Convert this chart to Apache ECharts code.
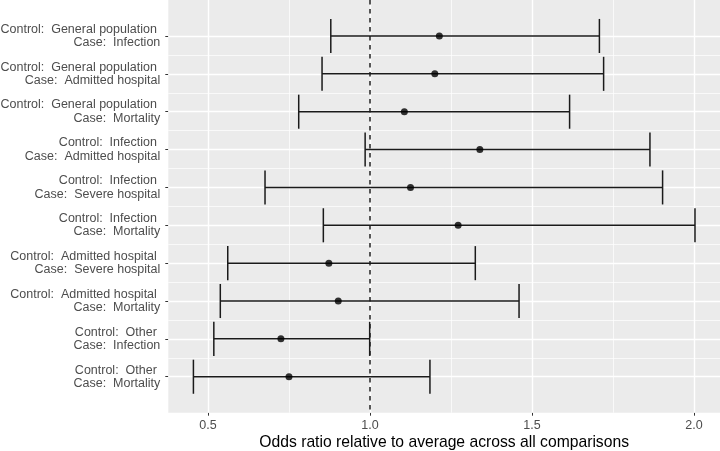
<!DOCTYPE html>
<html>
<head>
<meta charset="utf-8">
<script src="https://cdn.jsdelivr.net/npm/echarts@6/dist/echarts.min.js"></script>
<style>html,body{margin:0;padding:0;background:#fff}#c{width:720px;height:451px}</style>
</head>
<body>
<div id="c"></div>
<script>
const controls = ['General population','General population','General population','Infection','Infection','Infection','Admitted hospital','Admitted hospital','Other','Other'];
const cases = ['Infection','Admitted hospital','Mortality','Admitted hospital','Severe hospital','Mortality','Severe hospital','Mortality','Infection','Mortality'];
const estimate = [1.214,1.200,1.106,1.339,1.125,1.272,0.873,0.902,0.725,0.750];
const lower = [0.879,0.852,0.780,0.985,0.676,0.856,0.561,0.538,0.518,0.455];
const upper = [1.708,1.721,1.616,1.864,1.903,2.003,1.325,1.460,0.999,1.185];
const xTicks = [0.5,1.0,1.5,2.0];
const xMinor = [0.75,1.25,1.75];
const refLine = 1.0;
const xTitle = 'Odds ratio relative to average across all comparisons';

const rows = controls.map((c,i)=>i+1);
const rowMinor = rows.slice(0,-1).map(r=>r+0.5);

const FONT = '"Liberation Sans", Arial, sans-serif';
const chart = echarts.init(document.getElementById('c'), null, {renderer:'canvas'});

const gridLines = []
  .concat(xMinor.map(v=>({xAxis:v, lineStyle:{color:'#fff', width:0.7, type:'solid'}})))
  .concat(rowMinor.map(v=>({yAxis:v, lineStyle:{color:'#fff', width:0.7, type:'solid'}})))
  .concat(xTicks.map(v=>({xAxis:v, lineStyle:{color:'#fff', width:1.4, type:'solid'}})))
  .concat(rows.map(v=>({yAxis:v, lineStyle:{color:'#fff', width:1.4, type:'solid'}})));

chart.setOption({
  animation:false,
  backgroundColor:'#fff',
  grid:{left:168.3, right:0, top:0, bottom:38.3, show:true, backgroundColor:'#EBEBEB', borderWidth:0,
        containLabel:false, outerBoundsMode:'none'},
  xAxis:{
    type:'value', min:0.3775, max:2.0802,
    splitLine:{show:false}, axisLine:{show:false},
    axisTick:{show:true, customValues:xTicks, length:3, lineStyle:{color:'#333', width:1}},
    axisLabel:{customValues:xTicks, formatter:v=>v.toFixed(1), color:'#4D4D4D', fontSize:12.5, fontFamily:FONT, margin:6},
    name:xTitle, nameLocation:'middle', nameGap:22, nameMoveOverlap:false,
    nameTextStyle:{color:'#000', fontSize:15.7, fontFamily:FONT}
  },
  yAxis:{
    type:'value', min:0.05, max:10.95, inverse:true,
    splitLine:{show:false}, axisLine:{show:false},
    axisTick:{show:true, customValues:rows, length:3, lineStyle:{color:'#333', width:1}},
    axisLabel:{customValues:rows, color:'#4D4D4D', fontSize:12.5, fontFamily:FONT, margin:8, align:'right', lineHeight:13.3,
      formatter:v=>{const i=Math.round(v)-1; return 'Control:  '+controls[i]+' \nCase:  '+cases[i];}}
  },
  series:[
    {type:'scatter', data:[[1,1]], symbolSize:0, silent:true, z:1,
     markLine:{silent:true, z:1, symbol:['none','none'], label:{show:false}, animation:false, data:gridLines}},
    {type:'scatter', data:[[1,1]], symbolSize:0, silent:true, z:2,
     markLine:{silent:true, z:2, symbol:['none','none'], label:{show:false}, animation:false,
       data:[{xAxis:refLine, lineStyle:{color:'#222', width:1.5, type:[4.5,4.5]}}]}},
    {type:'custom', z:10, silent:true,
     encode:{x:[1,2], y:0},
     data: rows.map((r,i)=>[r, lower[i], upper[i]]),
     renderItem:(params, api)=>{
       const y = api.value(0), lo = api.value(1), hi = api.value(2);
       const a = api.coord([lo,y]), b = api.coord([hi,y]);
       const h = api.size([0,0.45])[1];
       const w = 1.5;
       const st = {fill:'#1a1a1a', stroke:null};
       return {type:'group', children:[
         {type:'rect', shape:{x:a[0], y:a[1]-w/2, width:b[0]-a[0], height:w}, style:st},
         {type:'rect', shape:{x:a[0]-w/2, y:a[1]-h, width:w, height:2*h}, style:st},
         {type:'rect', shape:{x:b[0]-w/2, y:b[1]-h, width:w, height:2*h}, style:st}
       ]};
     }},
    {type:'scatter', z:11, silent:true, symbol:'circle', symbolSize:7,
     itemStyle:{color:'#000', borderWidth:0},
     data: rows.map((r,i)=>[estimate[i], r])}
  ]
});
</script>
</body>
</html>
